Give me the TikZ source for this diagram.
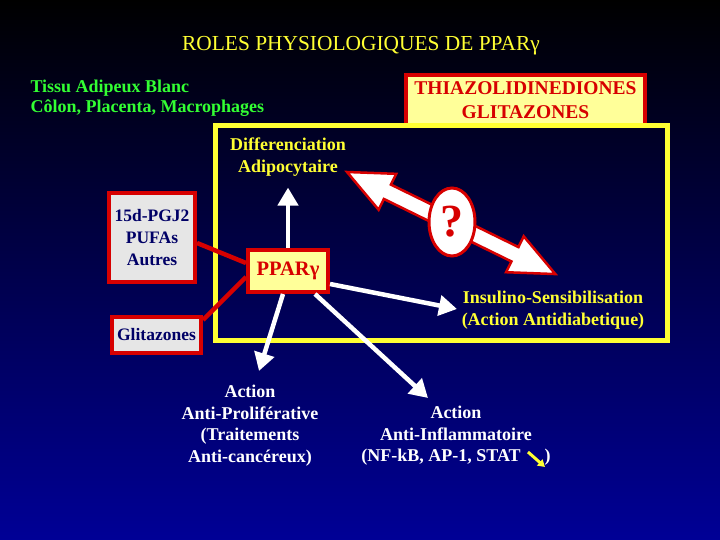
\documentclass[tikz,border=0pt]{standalone}
\usepackage{fontspec}
\setmainfont{Liberation Serif}
\usetikzlibrary{arrows.meta,shapes.geometric}

\definecolor{bgblue}{RGB}{0,0,150}
\definecolor{slideyellow}{RGB}{255,255,51}
\definecolor{slidegreen}{RGB}{51,255,51}
\definecolor{boxred}{RGB}{215,0,0}
\definecolor{paleyellow}{RGB}{255,255,153}
\definecolor{boxgrey}{RGB}{230,230,230}
\definecolor{navytext}{RGB}{0,0,102}

\tikzset{
  redbox/.style={draw=boxred, line width=4pt, inner sep=2pt, align=center,
    font=\bfseries\fontsize{17.5}{22}\selectfont},
  whitearrow/.style={draw=white, line width=4.5pt, -{Triangle[length=18pt,width=20pt]}},
  redlink/.style={draw=boxred, line width=4.5pt},
  bodytext/.style={align=center, font=\bfseries\fontsize{18}{21.5}\selectfont},
}

\begin{document}
\begin{tikzpicture}[x=1pt,y=-1pt]
\shade[top color=black, bottom color=bgblue] (0,0) rectangle (720,540);
\useasboundingbox (0,0) rectangle (720,540);

% title and tissues
\node[text=slideyellow, font=\fontsize{21.4}{24}\selectfont] (title) at (361,46) {ROLES PHYSIOLOGIQUES DE PPARγ};
\node[anchor=west, text=slidegreen, align=left, font=\bfseries\fontsize{18}{20}\selectfont] (tissu) at (27,98)
  {Tissu Adipeux Blanc\\Côlon, Placenta, Macrophages};

% ligands
\node[redbox, fill=paleyellow, text=boxred, minimum width=239pt, minimum height=51pt,
  font=\bfseries\fontsize{19.5}{24}\selectfont] (thiazo) at (525.5,100.5) {THIAZOLIDINEDIONES\\GLITAZONES};
\draw[slideyellow, line width=5pt] (215.5,125.5) rectangle (667.5,340.5);

\node[redbox, fill=boxgrey, text=navytext, minimum width=86pt, minimum height=89pt] (pufa) at (152,237.5)
  {15d-PGJ2\\PUFAs\\Autres};
\node[redbox, fill=boxgrey, text=navytext, minimum width=89pt, minimum height=36pt] (glit) at (156.5,335) {Glitazones};
\node[redbox, fill=paleyellow, text=boxred, minimum width=80pt, minimum height=42pt,
  font=\bfseries\fontsize{20.5}{22}\selectfont] (ppar) at (288,271) {PPARγ};

\draw[redlink] ([yshift=-5.5pt]pufa.east) -- ([yshift=8pt]ppar.west);
\draw[redlink] ([yshift=-5pt]glit.north east) -- ([yshift=-6pt]ppar.west);

% effects
\node[bodytext, text=slideyellow] (diff) at (288,157) {Differenciation\\Adipocytaire};
\node[bodytext, text=slideyellow] (insulin) at (553,310) {Insulino-Sensibilisation\\(Action Antidiabetique)};
\node[bodytext, text=white] (prolif) at (250,425.5) {Action\\Anti-Proliférative\\(Traitements\\Anti-cancéreux)};
\node[bodytext, text=white] (inflam) at (456,436) {Action\\Anti-Inflammatoire\\(NF-kB, AP-1, STAT\hspace{24pt})};

\coordinate (tipprolif) at (259,371);
\coordinate (tipinflam) at (428,398);
\coordinate (tipinsulin) at (457,309);
\draw[whitearrow] (ppar.north) -- ([yshift=-8pt]diff.south);
\draw[whitearrow] ([xshift=-5pt]ppar.south) -- (tipprolif);
\draw[whitearrow] ([xshift=27pt]ppar.south) -- (tipinflam);
\draw[whitearrow] ([yshift=-13pt]ppar.east) -- (tipinsulin);

% double arrow with question mark
\coordinate (dtipa) at (347,172);
\begin{scope}[shift={(dtipa)}, rotate=-26.1, y=1pt]
  \filldraw[fill=white, draw=boxred, line width=2.5pt]
    (0,0) -- (45,20) -- (45,8) -- (187,8) -- (187,20) -- (232,0)
    -- (187,-20) -- (187,-8) -- (45,-8) -- (45,-20) -- cycle;
\end{scope}
\node[ellipse, draw=boxred, line width=3pt, fill=white, text=boxred, inner sep=0pt,
  minimum width=46pt, minimum height=68pt, font=\bfseries\fontsize{46}{46}\selectfont] (qmark) at (452,222) {?};

% down arrow after STAT
\coordinate (stata) at (528,452);
\coordinate (statb) at (545,467);
\draw[slideyellow, line width=3pt, -{Triangle[length=7pt,width=8pt]}] (stata) -- (statb);
\end{tikzpicture}
\end{document}
